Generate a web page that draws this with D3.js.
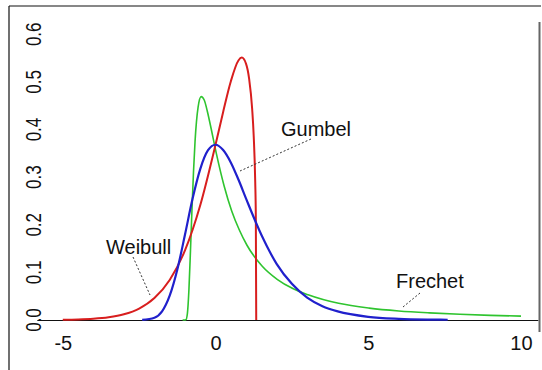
<!DOCTYPE html>
<html>
<head>
<meta charset="utf-8">
<script src="https://cdn.jsdelivr.net/npm/d3@7"></script>
<style>
  body { margin: 0; background: #fff; }
  svg { display: block; font-family: "Liberation Sans", Arial, sans-serif; }
</style>
</head>
<body>
<svg id="chart"></svg>
<script>
var width = 542,
    height = 370;

// tick values
var xTicks = [-5, 0, 5, 10];
var yTicks = [0, 0.1, 0.2, 0.3, 0.4, 0.5, 0.6];

// Weibull (red)
var weibullX = [-5, -4.5, -4, -3.5, -3, -2.5, -2, -1.5, -1, -0.5, 0, 0.25, 0.5, 0.75, 0.86, 1.0, 1.1, 1.2, 1.25, 1.3, 1.32, 1.333];
var weibullY = [0.0006, 0.0013, 0.0028, 0.0059, 0.012, 0.024, 0.046, 0.084, 0.146, 0.241, 0.368, 0.437, 0.501, 0.545, 0.551, 0.538, 0.507, 0.443, 0.387, 0.290, 0.215, 0];

// Gumbel (blue)
var gumbelX = [-2.4, -2, -1.75, -1.5, -1.25, -1, -0.75, -0.5, -0.25, 0, 0.25, 0.5, 0.75, 1, 1.5, 2, 2.5, 3, 3.5, 4, 5, 6, 7, 7.6];
var gumbelY = [0.0002, 0.0046, 0.018, 0.051, 0.106, 0.179, 0.255, 0.317, 0.356, 0.368, 0.357, 0.331, 0.295, 0.255, 0.179, 0.118, 0.076, 0.047, 0.029, 0.018, 0.0067, 0.0025, 0.0009, 0.0005];

// Frechet (green)
var frechetX = [-1.077, -1.02, -0.97, -0.92, -0.87, -0.82, -0.77, -0.72, -0.67, -0.57, -0.47, -0.37, -0.27, -0.17, 0.03, 0.28, 0.53, 0.78, 1.03, 1.53, 2.03, 2.53, 3.03, 4.03, 5.03, 6, 7, 8, 9, 10];
var frechetY = [0, 0, 0.0005, 0.014, 0.064, 0.145, 0.233, 0.312, 0.375, 0.447, 0.469, 0.462, 0.439, 0.410, 0.349, 0.282, 0.229, 0.189, 0.157, 0.113, 0.085, 0.066, 0.053, 0.035, 0.025, 0.019, 0.015, 0.012, 0.0097, 0.0081];

var svg = d3.select('#chart')
    .attr('width', width)
    .attr('height', height);

var x = d3.scaleLinear()
    .domain([-5.85, 10.55])
    .range([36.8, 537.8]);

var y = d3.scaleLinear()
    .domain([0, 0.63])
    .range([320, 20]);

// frame
svg.append('line')
    .attr('x1', 9).attr('y1', 6).attr('x2', 541).attr('y2', 6)
    .attr('stroke', '#111').attr('stroke-width', 1.2);
svg.append('line')
    .attr('x1', 9).attr('y1', 6).attr('x2', 9).attr('y2', 370)
    .attr('stroke', '#111').attr('stroke-width', 1.2);
svg.append('line')
    .attr('x1', 539.5).attr('y1', 22).attr('x2', 539.5).attr('y2', 332)
    .attr('stroke', '#666').attr('stroke-width', 2);

// x axis (plain hyphen for negatives, as in the picture)
var xAxis = svg.append('g')
    .attr('transform', 'translate(0,320)')
    .call(d3.axisBottom(x)
        .tickValues(xTicks)
        .tickFormat(function (d) { return String(d); })
        .tickSize(0).tickSizeOuter(0).tickPadding(16));
xAxis.select('.domain').attr('stroke', '#111');
xAxis.selectAll('text')
    .attr('fill', '#111')
    .style('font-size', '20px')
    .style('font-family', '"Liberation Sans", Arial, sans-serif');

// y labels, rotated
svg.append('g').selectAll('text')
    .data(yTicks)
    .enter().append('text')
    .attr('transform', function (d) { return 'translate(41,' + y(d) + ') rotate(-90) scale(1,1.25)'; })
    .attr('text-anchor', 'middle')
    .attr('fill', '#111')
    .style('font-size', '17px')
    .text(d3.format('.1f'));

var line = d3.line()
    .x(function (d) { return x(d[0]); })
    .y(function (d) { return y(d[1]); })
    .curve(d3.curveMonotoneX);

var series = [
    { xs: frechetX, ys: frechetY, color: '#2fc42f', w: 1.6 },
    { xs: weibullX, ys: weibullY, color: '#d81e1e', w: 2 },
    { xs: gumbelX, ys: gumbelY, color: '#2020cc', w: 2.2 }
];

svg.append('g').selectAll('path')
    .data(series)
    .enter().append('path')
    .attr('d', function (s) { return line(d3.zip(s.xs, s.ys)); })
    .attr('fill', 'none')
    .attr('stroke', function (s) { return s.color; })
    .attr('stroke-width', function (s) { return s.w; });

// annotations
var notes = [
    { label: 'Gumbel', tx: 281, ty: 136, l: [311, 139, 240, 171] },
    { label: 'Weibull', tx: 106, ty: 254, l: [133, 257, 150, 295] },
    { label: 'Frechet', tx: 396, ty: 288, l: [420, 293, 403, 307] }
];

var ann = svg.append('g').selectAll('g')
    .data(notes)
    .enter().append('g');

ann.append('text')
    .attr('x', function (d) { return d.tx; })
    .attr('y', function (d) { return d.ty; })
    .attr('fill', '#111')
    .style('font-size', '20px')
    .text(function (d) { return d.label; });

ann.append('line')
    .attr('x1', function (d) { return d.l[0]; })
    .attr('y1', function (d) { return d.l[1]; })
    .attr('x2', function (d) { return d.l[2]; })
    .attr('y2', function (d) { return d.l[3]; })
    .attr('stroke', '#333')
    .attr('stroke-width', 1)
    .attr('stroke-dasharray', '2,2');
</script>
</body>
</html>
